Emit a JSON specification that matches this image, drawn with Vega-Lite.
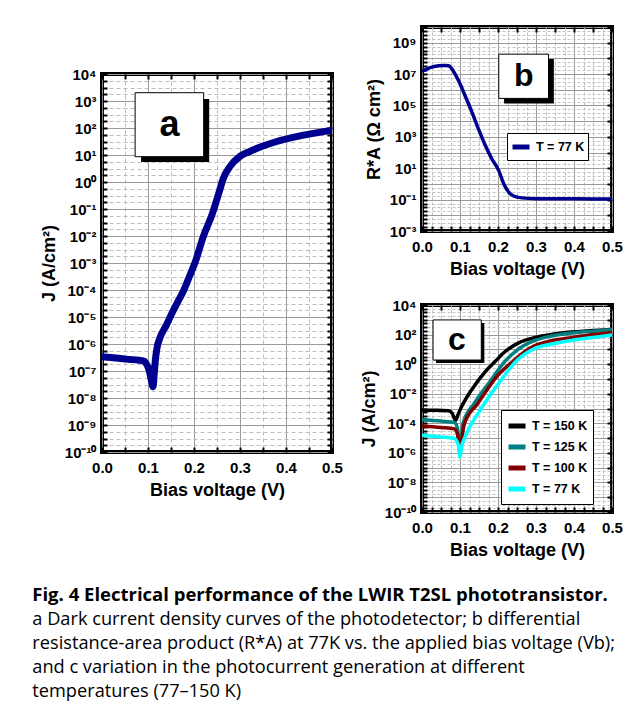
{
  "$schema": "https://vega.github.io/schema/vega-lite/v6.json",
  "background": "white",
  "padding": {"left": 32, "top": 18, "right": 2, "bottom": 2},
  "config": {
    "font": "Liberation Sans",
    "view": {"stroke": "black", "strokeWidth": 4},
    "axis": {"domain": false, "labelFont": "Liberation Sans", "labelFontWeight": "bold", "labelFontSize": 15, "labelColor": "black", "titleFont": "Liberation Sans", "titleFontWeight": "bold", "titleFontSize": 18, "titleColor": "black", "tickColor": "black", "tickWidth": 2, "tickSize": -5, "labelPadding": 11, "labelFlush": false, "labelOverlap": false, "gridWidth": 1},
    "axisX": {"labelPadding": 13},
    "legend": {"orient": "none", "fillColor": "white", "strokeColor": "black", "symbolType": "stroke", "symbolStrokeWidth": 5, "symbolSize": 289, "labelFont": "Liberation Sans", "labelFontSize": 12.5, "labelFontWeight": "bold", "labelColor": "black", "title": null, "rowPadding": 0, "labelOffset": 4}
  },
  "datasets": {
    "a": [
      {"V": 0, "J": 3.39e-7}, {"V": 0.02, "J": 3.16e-7}, {"V": 0.04, "J": 2.88e-7}, {"V": 0.06, "J": 2.69e-7},
      {"V": 0.08, "J": 2.51e-7}, {"V": 0.09, "J": 2.34e-7}, {"V": 0.098, "J": 1.66e-7}, {"V": 0.103, "J": 1.0e-7},
      {"V": 0.107, "J": 4.68e-8}, {"V": 0.111, "J": 2.63e-8}, {"V": 0.114, "J": 1.0e-7}, {"V": 0.116, "J": 2.51e-7},
      {"V": 0.119, "J": 6.31e-7}, {"V": 0.127, "J": 1.86e-6}, {"V": 0.14, "J": 5.01e-6}, {"V": 0.152, "J": 1.38e-5},
      {"V": 0.165, "J": 3.72e-5}, {"V": 0.178, "J": 1.0e-4}, {"V": 0.19, "J": 3.16e-4}, {"V": 0.203, "J": 1.12e-3},
      {"V": 0.22, "J": 9.33e-3}, {"V": 0.239, "J": 6.03e-2}, {"V": 0.254, "J": 0.389}, {"V": 0.264, "J": 1.41},
      {"V": 0.278, "J": 3.72}, {"V": 0.3, "J": 8.91}, {"V": 0.32, "J": 13.2}, {"V": 0.35, "J": 21.4},
      {"V": 0.38, "J": 31.6}, {"V": 0.42, "J": 46.8}, {"V": 0.46, "J": 63.1}, {"V": 0.5, "J": 83.2}
    ],
    "b": [
      {"V": 0, "R": 1.48e7, "T": "T = 77 K"}, {"V": 0.026, "R": 2.75e7, "T": "T = 77 K"}, {"V": 0.044, "R": 3.39e7, "T": "T = 77 K"},
      {"V": 0.061, "R": 3.55e7, "T": "T = 77 K"}, {"V": 0.07, "R": 3.39e7, "T": "T = 77 K"}, {"V": 0.083, "R": 1.48e7, "T": "T = 77 K"},
      {"V": 0.097, "R": 3.47e6, "T": "T = 77 K"}, {"V": 0.114, "R": 3.89e5, "T": "T = 77 K"}, {"V": 0.132, "R": 3.47e4, "T": "T = 77 K"},
      {"V": 0.149, "R": 3020, "T": "T = 77 K"}, {"V": 0.167, "R": 269, "T": "T = 77 K"}, {"V": 0.184, "R": 38.9, "T": "T = 77 K"},
      {"V": 0.202, "R": 7.08, "T": "T = 77 K"}, {"V": 0.215, "R": 1.02, "T": "T = 77 K"}, {"V": 0.228, "R": 0.302, "T": "T = 77 K"},
      {"V": 0.241, "R": 0.17, "T": "T = 77 K"}, {"V": 0.263, "R": 0.129, "T": "T = 77 K"}, {"V": 0.3, "R": 0.115, "T": "T = 77 K"},
      {"V": 0.4, "R": 0.112, "T": "T = 77 K"}, {"V": 0.5, "R": 0.11, "T": "T = 77 K"}
    ],
    "c": [
      {"V": 0, "J": 7.76e-4, "T": "T = 150 K"}, {"V": 0.04, "J": 7.76e-4, "T": "T = 150 K"}, {"V": 0.07, "J": 7.08e-4, "T": "T = 150 K"},
      {"V": 0.08, "J": 4.47e-4, "T": "T = 150 K"}, {"V": 0.088, "J": 1.58e-4, "T": "T = 150 K"}, {"V": 0.095, "J": 3.98e-4, "T": "T = 150 K"},
      {"V": 0.104, "J": 1.29e-3, "T": "T = 150 K"}, {"V": 0.13, "J": 0.0174, "T": "T = 150 K"}, {"V": 0.165, "J": 0.282, "T": "T = 150 K"},
      {"V": 0.196, "J": 1.86, "T": "T = 150 K"}, {"V": 0.21, "J": 4.47, "T": "T = 150 K"}, {"V": 0.253, "J": 26.3, "T": "T = 150 K"},
      {"V": 0.297, "J": 63.1, "T": "T = 150 K"}, {"V": 0.34, "J": 100, "T": "T = 150 K"}, {"V": 0.385, "J": 141, "T": "T = 150 K"},
      {"V": 0.44, "J": 182, "T": "T = 150 K"}, {"V": 0.5, "J": 224, "T": "T = 150 K"},
      {"V": 0, "J": 1.82e-4, "T": "T = 125 K"}, {"V": 0.05, "J": 1.41e-4, "T": "T = 125 K"}, {"V": 0.085, "J": 1.12e-4, "T": "T = 125 K"},
      {"V": 0.093, "J": 5.01e-5, "T": "T = 125 K"}, {"V": 0.1, "J": 2.0e-6, "T": "T = 125 K"}, {"V": 0.104, "J": 1.58e-5, "T": "T = 125 K"},
      {"V": 0.108, "J": 1.0e-4, "T": "T = 125 K"}, {"V": 0.138, "J": 2.29e-3, "T": "T = 125 K"}, {"V": 0.182, "J": 0.0832, "T": "T = 125 K"},
      {"V": 0.209, "J": 0.794, "T": "T = 125 K"}, {"V": 0.226, "J": 2.51, "T": "T = 125 K"}, {"V": 0.253, "J": 10, "T": "T = 125 K"},
      {"V": 0.297, "J": 39.8, "T": "T = 125 K"}, {"V": 0.34, "J": 79.4, "T": "T = 125 K"}, {"V": 0.4, "J": 132, "T": "T = 125 K"},
      {"V": 0.45, "J": 170, "T": "T = 125 K"}, {"V": 0.5, "J": 214, "T": "T = 125 K"},
      {"V": 0, "J": 6.61e-5, "T": "T = 100 K"}, {"V": 0.05, "J": 5.25e-5, "T": "T = 100 K"}, {"V": 0.085, "J": 4.17e-5, "T": "T = 100 K"},
      {"V": 0.093, "J": 2.0e-5, "T": "T = 100 K"}, {"V": 0.1, "J": 1.0e-6, "T": "T = 100 K"}, {"V": 0.105, "J": 1.0e-5, "T": "T = 100 K"},
      {"V": 0.112, "J": 1.0e-4, "T": "T = 100 K"}, {"V": 0.147, "J": 2.19e-3, "T": "T = 100 K"}, {"V": 0.2, "J": 0.182, "T": "T = 100 K"},
      {"V": 0.243, "J": 1.86, "T": "T = 100 K"}, {"V": 0.26, "J": 4.47, "T": "T = 100 K"}, {"V": 0.297, "J": 17.8, "T": "T = 100 K"},
      {"V": 0.34, "J": 38, "T": "T = 100 K"}, {"V": 0.4, "J": 66.1, "T": "T = 100 K"}, {"V": 0.45, "J": 100, "T": "T = 100 K"},
      {"V": 0.5, "J": 141, "T": "T = 100 K"},
      {"V": 0, "J": 1.55e-5, "T": "T = 77 K"}, {"V": 0.05, "J": 1.2e-5, "T": "T = 77 K"}, {"V": 0.085, "J": 9.33e-6, "T": "T = 77 K"},
      {"V": 0.095, "J": 3.98e-6, "T": "T = 77 K"}, {"V": 0.1, "J": 5.25e-7, "T": "T = 77 K"}, {"V": 0.105, "J": 3.16e-6, "T": "T = 77 K"},
      {"V": 0.112, "J": 1.0e-5, "T": "T = 77 K"}, {"V": 0.156, "J": 1.0e-3, "T": "T = 77 K"}, {"V": 0.208, "J": 0.0832, "T": "T = 77 K"},
      {"V": 0.25, "J": 1.86, "T": "T = 77 K"}, {"V": 0.275, "J": 5.62, "T": "T = 77 K"}, {"V": 0.3, "J": 12.6, "T": "T = 77 K"},
      {"V": 0.34, "J": 22.4, "T": "T = 77 K"}, {"V": 0.4, "J": 42.7, "T": "T = 77 K"}, {"V": 0.45, "J": 63.1, "T": "T = 77 K"},
      {"V": 0.5, "J": 93.3, "T": "T = 77 K"}
    ]
  },
  "title": {
    "text": "Fig. 4 Electrical performance of the LWIR T2SL phototransistor.",
    "subtitle": ["a Dark current density curves of the photodetector; b differential", "resistance-area product (R*A) at 77K vs. the applied bias voltage (Vb);", "and c variation in the photocurrent generation at different", "temperatures (77–150 K)"],
    "orient": "bottom", "anchor": "start", "frame": "bounds", "offset": 25, "dx": -6,
    "font": "Open Sans", "fontSize": 18.5, "fontWeight": "bold", "color": "black",
    "subtitleFont": "Open Sans", "subtitleFontSize": 18.2, "subtitleColor": "black", "subtitleLineHeight": 24, "subtitlePadding": 6
  },
  "resolve": {"scale": {"stroke": "independent"}, "legend": {"stroke": "independent"}},
  "spacing": 13,
  "hconcat": [
    {
      "spacing": 0,
      "vconcat": [
        {"width": 1, "height": 38, "data": {"values": [{}]}, "mark": {"type": "text", "text": ""}, "encoding": {}, "view": {"stroke": null}},
        {
          "width": 230, "height": 378,
          "layer": [
            {
              "data": {"name": "a"},
              "mark": {"type": "line", "color": "#00008f", "strokeWidth": 7, "interpolate": "monotone", "strokeCap": "round", "clip": true},
              "encoding": {
                "x": {"field": "V", "type": "quantitative", "scale": {"domain": [0, 0.5], "nice": false},
                  "axis": {"orient": "bottom", "values": [0, 0.05, 0.1, 0.15, 0.2, 0.25, 0.3, 0.35, 0.4, 0.45, 0.5],
                    "labelExpr": "round(datum.value*20)%2==0 ? format(datum.value,'.1f') : ''",
                    "title": "Bias voltage (V)", "labelFontSize": 15, "titlePadding": 6, "grid": true,
                    "gridColor": {"condition": {"test": "round(datum.value*20)%2==0", "value": "#9a9a9a"}, "value": "#bdbdbd"},
                    "gridDash": {"condition": {"test": "round(datum.value*20)%2==0", "value": []}, "value": [4, 3]}}},
                "y": {"field": "J", "type": "quantitative", "scale": {"type": "log", "domain": [1e-10, 10000], "nice": false},
                  "axis": {"orient": "left", "title": "J (A/cm²)", "titlePadding": 6, "grid": true,
                    "values": [1e-10,1.778e-10,3.162e-10,5.623e-10,1e-9,1.778e-9,3.162e-9,5.623e-9,1e-8,1.778e-8,3.162e-8,5.623e-8,1e-7,1.778e-7,3.162e-7,5.623e-7,1e-6,1.778e-6,3.162e-6,5.623e-6,1e-5,1.778e-5,3.162e-5,5.623e-5,1e-4,1.778e-4,3.162e-4,5.623e-4,0.001,0.001778,0.003162,0.005623,0.01,0.01778,0.03162,0.05623,0.1,0.1778,0.3162,0.5623,1,1.778,3.162,5.623,10,17.78,31.62,56.23,100,177.8,316.2,562.3,1000,1778,3162,5623,10000],
                    "labelExpr": "abs(log(datum.value)/LN10-round(log(datum.value)/LN10))<0.01 ? '10'+(datum.value<0.5?'⁻':'')+(abs(round(log(datum.value)/LN10))>=10?'¹':'')+['⁰','¹','²','³','⁴','⁵','⁶','⁷','⁸','⁹'][abs(round(log(datum.value)/LN10))%10] : ''",
                    "gridColor": {"condition": {"test": "abs(log(datum.value)/LN10-round(log(datum.value)/LN10))<0.01", "value": "#9a9a9a"}, "value": "#bdbdbd"},
                    "gridDash": {"condition": {"test": "abs(log(datum.value)/LN10-round(log(datum.value)/LN10))<0.01", "value": []}, "value": [4, 3]}}}
              }
            },
            {
              "data": {"values": [{}]},
              "mark": {"type": "rect", "color": "black"},
              "encoding": {
                "x": {"datum": 0.085, "type": "quantitative",
                  "axis": {"orient": "top", "labels": false, "grid": false, "title": null, "values": [0, 0.05, 0.1, 0.15, 0.2, 0.25, 0.3, 0.35, 0.4, 0.45, 0.5]}},
                "x2": {"datum": 0.233},
                "y": {"datum": 1186, "type": "quantitative",
                  "axis": {"orient": "right", "labels": false, "grid": false, "title": null,
                    "values": [1e-10,1.778e-10,3.162e-10,5.623e-10,1e-9,1.778e-9,3.162e-9,5.623e-9,1e-8,1.778e-8,3.162e-8,5.623e-8,1e-7,1.778e-7,3.162e-7,5.623e-7,1e-6,1.778e-6,3.162e-6,5.623e-6,1e-5,1.778e-5,3.162e-5,5.623e-5,1e-4,1.778e-4,3.162e-4,5.623e-4,0.001,0.001778,0.003162,0.005623,0.01,0.01778,0.03162,0.05623,0.1,0.1778,0.3162,0.5623,1,1.778,3.162,5.623,10,17.78,31.62,56.23,100,177.8,316.2,562.3,1000,1778,3162,5623,10000]}},
                "y2": {"datum": 5.5}
              }
            },
            {
              "data": {"values": [{}]},
              "mark": {"type": "rect", "fill": "white", "stroke": "black", "strokeWidth": 1},
              "encoding": {"x": {"datum": 0.072, "type": "quantitative", "axis": null}, "x2": {"datum": 0.221}, "y": {"datum": 2028, "type": "quantitative", "axis": null}, "y2": {"datum": 8.65}}
            },
            {
              "data": {"values": [{}]},
              "mark": {"type": "text", "text": "a", "fontSize": 36, "fontWeight": "bold", "font": "Liberation Sans", "align": "center", "baseline": "middle", "color": "black"},
              "encoding": {"x": {"datum": 0.147, "type": "quantitative", "axis": null}, "y": {"datum": 132, "type": "quantitative", "axis": null}}
            }
          ]
        }
      ]
    },
    {
      "spacing": 16,
      "resolve": {"scale": {"stroke": "independent"}, "legend": {"stroke": "independent"}},
      "vconcat": [
        {
          "width": 190, "height": 204,
          "layer": [
            {
              "data": {"name": "b"},
              "mark": {"type": "line", "strokeWidth": 3.5, "interpolate": "monotone", "clip": true},
              "encoding": {
                "x": {"field": "V", "type": "quantitative", "scale": {"domain": [0, 0.5], "nice": false},
                  "axis": {"orient": "bottom", "values": [0,0.025,0.05,0.075,0.1,0.125,0.15,0.175,0.2,0.225,0.25,0.275,0.3,0.325,0.35,0.375,0.4,0.425,0.45,0.475,0.5],
                    "labelExpr": "round(datum.value*40)%4==0 ? format(datum.value,'.1f') : ''",
                    "title": "Bias voltage (V)", "labelFontSize": 15, "titlePadding": 6, "grid": true,
                    "gridColor": {"condition": {"test": "round(datum.value*40)%4==0", "value": "#9a9a9a"}, "value": "#bdbdbd"},
                    "gridDash": {"condition": {"test": "round(datum.value*40)%4==0", "value": []}, "value": [3, 2]}}},
                "y": {"field": "R", "type": "quantitative", "scale": {"type": "log", "domain": [0.001, 1e10], "nice": false},
                  "axis": {"orient": "left", "title": "R*A (Ω cm²)", "titlePadding": 6, "grid": true,
                    "values": [0.001,0.001778,0.003162,0.005623,0.01,0.01778,0.03162,0.05623,0.1,0.1778,0.3162,0.5623,1,1.778,3.162,5.623,10,17.78,31.62,56.23,100,177.8,316.2,562.3,1000,1778,3162,5623,10000,17780,31620,56230,1e5,1.778e5,3.162e5,5.623e5,1e6,1.778e6,3.162e6,5.623e6,1e7,1.778e7,3.162e7,5.623e7,1e8,1.778e8,3.162e8,5.623e8,1e9,1.778e9,3.162e9,5.623e9,1e10],
                    "labelExpr": "abs(log(datum.value)/LN10-round(log(datum.value)/LN10))<0.01 && abs(round(log(datum.value)/LN10))%2==1 ? '10'+(datum.value<0.5?'⁻':'')+(abs(round(log(datum.value)/LN10))>=10?'¹':'')+['⁰','¹','²','³','⁴','⁵','⁶','⁷','⁸','⁹'][abs(round(log(datum.value)/LN10))%10] : ''",
                    "gridColor": {"condition": {"test": "abs(log(datum.value)/LN10-round(log(datum.value)/LN10))<0.01", "value": "#9a9a9a"}, "value": "#c4c4c4"},
                    "gridDash": {"condition": {"test": "abs(log(datum.value)/LN10-round(log(datum.value)/LN10))<0.01", "value": []}, "value": [3, 2]}}},
                "stroke": {"field": "T", "type": "nominal", "scale": {"range": ["#00008f"]},
                  "legend": {"legendX": 85, "legendY": 106, "padding": 3}}
              }
            },
            {
              "data": {"values": [{}]},
              "mark": {"type": "rect", "color": "black"},
              "encoding": {
                "x": {"datum": 0.216, "type": "quantitative",
                  "axis": {"orient": "top", "labels": false, "grid": false, "title": null, "values": [0, 0.05, 0.1, 0.15, 0.2, 0.25, 0.3, 0.35, 0.4, 0.45, 0.5]}},
                "x2": {"datum": 0.347},
                "y": {"datum": 9.3e7, "type": "quantitative",
                  "axis": {"orient": "right", "labels": false, "grid": false, "title": null,
                    "values": [0.001,0.01,0.1,1,10,100,1000,10000,1e5,1e6,1e7,1e8,1e9,1e10]}},
                "y2": {"datum": 1.32e5}
              }
            },
            {
              "data": {"values": [{}]},
              "mark": {"type": "rect", "fill": "white", "stroke": "black", "strokeWidth": 1},
              "encoding": {"x": {"datum": 0.202, "type": "quantitative", "axis": null}, "x2": {"datum": 0.333}, "y": {"datum": 1.86e8, "type": "quantitative", "axis": null}, "y2": {"datum": 2.82e5}}
            },
            {
              "data": {"values": [{}]},
              "mark": {"type": "text", "text": "b", "fontSize": 32, "fontWeight": "bold", "font": "Liberation Sans", "align": "center", "baseline": "middle", "color": "black"},
              "encoding": {"x": {"datum": 0.268, "type": "quantitative", "axis": null}, "y": {"datum": 7.2e6, "type": "quantitative", "axis": null}}
            }
          ]
        },
        {
          "width": 190, "height": 207,
          "layer": [
            {
              "data": {"name": "c"},
              "mark": {"type": "line", "strokeWidth": 3.5, "interpolate": "monotone", "clip": true},
              "encoding": {
                "x": {"field": "V", "type": "quantitative", "scale": {"domain": [0, 0.5], "nice": false},
                  "axis": {"orient": "bottom", "values": [0,0.025,0.05,0.075,0.1,0.125,0.15,0.175,0.2,0.225,0.25,0.275,0.3,0.325,0.35,0.375,0.4,0.425,0.45,0.475,0.5],
                    "labelExpr": "round(datum.value*40)%4==0 ? format(datum.value,'.1f') : ''",
                    "title": "Bias voltage (V)", "labelFontSize": 15, "titlePadding": 6, "grid": true,
                    "gridColor": {"condition": {"test": "round(datum.value*40)%4==0", "value": "#9a9a9a"}, "value": "#bdbdbd"},
                    "gridDash": {"condition": {"test": "round(datum.value*40)%4==0", "value": []}, "value": [3, 2]}}},
                "y": {"field": "J", "type": "quantitative", "scale": {"type": "log", "domain": [1e-10, 10000], "nice": false},
                  "axis": {"orient": "left", "title": "J (A/cm²)", "titlePadding": 6, "grid": true,
                    "values": [1e-10,1.778e-10,3.162e-10,5.623e-10,1e-9,1.778e-9,3.162e-9,5.623e-9,1e-8,1.778e-8,3.162e-8,5.623e-8,1e-7,1.778e-7,3.162e-7,5.623e-7,1e-6,1.778e-6,3.162e-6,5.623e-6,1e-5,1.778e-5,3.162e-5,5.623e-5,1e-4,1.778e-4,3.162e-4,5.623e-4,0.001,0.001778,0.003162,0.005623,0.01,0.01778,0.03162,0.05623,0.1,0.1778,0.3162,0.5623,1,1.778,3.162,5.623,10,17.78,31.62,56.23,100,177.8,316.2,562.3,1000,1778,3162,5623,10000],
                    "labelExpr": "abs(log(datum.value)/LN10-round(log(datum.value)/LN10))<0.01 && abs(round(log(datum.value)/LN10))%2==0 ? '10'+(datum.value<0.5?'⁻':'')+(abs(round(log(datum.value)/LN10))>=10?'¹':'')+['⁰','¹','²','³','⁴','⁵','⁶','⁷','⁸','⁹'][abs(round(log(datum.value)/LN10))%10] : ''",
                    "gridColor": {"condition": {"test": "abs(log(datum.value)/LN10-round(log(datum.value)/LN10))<0.01", "value": "#9a9a9a"}, "value": "#c4c4c4"},
                    "gridDash": {"condition": {"test": "abs(log(datum.value)/LN10-round(log(datum.value)/LN10))<0.01", "value": []}, "value": [3, 2]}}},
                "stroke": {"field": "T", "type": "nominal",
                  "scale": {"domain": ["T = 150 K", "T = 125 K", "T = 100 K", "T = 77 K"], "range": ["black", "#008080", "#800000", "#00ffff"]},
                  "legend": {"legendX": 79, "legendY": 105, "padding": 5}}
              }
            },
            {
              "data": {"values": [{}]},
              "mark": {"type": "rect", "color": "black"},
              "encoding": {
                "x": {"datum": 0.037, "type": "quantitative",
                  "axis": {"orient": "top", "labels": false, "grid": false, "title": null, "values": [0, 0.05, 0.1, 0.15, 0.2, 0.25, 0.3, 0.35, 0.4, 0.45, 0.5]}},
                "x2": {"datum": 0.164},
                "y": {"datum": 603, "type": "quantitative",
                  "axis": {"orient": "right", "labels": false, "grid": false, "title": null,
                    "values": [1e-10,1e-9,1e-8,1e-7,1e-6,1e-5,1e-4,0.001,0.01,0.1,1,10,100,1000,10000]}},
                "y2": {"datum": 1.2}
              }
            },
            {
              "data": {"values": [{}]},
              "mark": {"type": "rect", "fill": "white", "stroke": "black", "strokeWidth": 1},
              "encoding": {"x": {"datum": 0.029, "type": "quantitative", "axis": null}, "x2": {"datum": 0.156}, "y": {"datum": 977, "type": "quantitative", "axis": null}, "y2": {"datum": 1.9}}
            },
            {
              "data": {"values": [{}]},
              "mark": {"type": "text", "text": "c", "fontSize": 32, "fontWeight": "bold", "font": "Liberation Sans", "align": "center", "baseline": "middle", "color": "black"},
              "encoding": {"x": {"datum": 0.092, "type": "quantitative", "axis": null}, "y": {"datum": 42.7, "type": "quantitative", "axis": null}}
            }
          ]
        }
      ]
    }
  ]
}
